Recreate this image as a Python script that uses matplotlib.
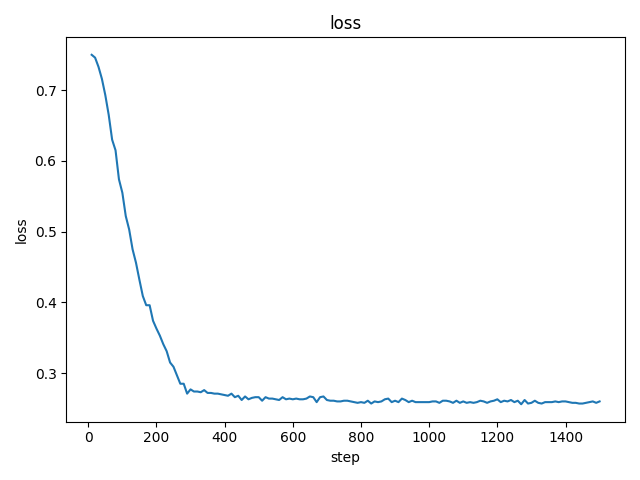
import matplotlib
matplotlib.use("Agg")
import matplotlib.pyplot as plt
import numpy as np

steps = list(range(10, 1510, 10))
loss = [
    0.750, 0.746, 0.733, 0.716, 0.693, 0.665, 0.630, 0.615, 0.574, 0.555,
    0.522, 0.503, 0.475, 0.456, 0.432, 0.409, 0.396, 0.396, 0.374, 0.363,
    0.353, 0.341, 0.331, 0.315, 0.309, 0.297, 0.285, 0.285, 0.271, 0.277,
    0.274, 0.274, 0.273, 0.276, 0.272, 0.272, 0.271, 0.271, 0.270, 0.269,
    0.268, 0.271, 0.266, 0.268, 0.262, 0.267, 0.263, 0.265, 0.266, 0.266,
    0.261, 0.266, 0.264, 0.264, 0.263, 0.262, 0.266, 0.263, 0.264, 0.263,
    0.264, 0.263, 0.263, 0.264, 0.267, 0.266, 0.259, 0.266, 0.267, 0.262,
    0.261, 0.261, 0.260, 0.260, 0.261, 0.261, 0.260, 0.259, 0.258, 0.259,
    0.258, 0.261, 0.257, 0.260, 0.259, 0.260, 0.263, 0.264, 0.259, 0.261,
    0.259, 0.264, 0.262, 0.259, 0.261, 0.259, 0.259, 0.259, 0.259, 0.259,
    0.260, 0.260, 0.258, 0.261, 0.261, 0.260, 0.258, 0.261, 0.258, 0.260,
    0.258, 0.259, 0.258, 0.259, 0.261, 0.260, 0.258, 0.260, 0.261, 0.263,
    0.259, 0.261, 0.260, 0.262, 0.259, 0.261, 0.256, 0.262, 0.257, 0.258,
    0.261, 0.258, 0.257, 0.259, 0.259, 0.259, 0.260, 0.259, 0.260, 0.260,
    0.259, 0.258, 0.258, 0.257, 0.257, 0.258, 0.259, 0.260, 0.258, 0.260,
]

fig, ax = plt.subplots(figsize=(6.4, 4.8), dpi=100)
ax.plot(steps, loss, color="#1f77b4")
ax.set_title("loss")
ax.set_xlabel("step")
ax.set_ylabel("loss")
fig.tight_layout()
fig.savefig("out.png")
